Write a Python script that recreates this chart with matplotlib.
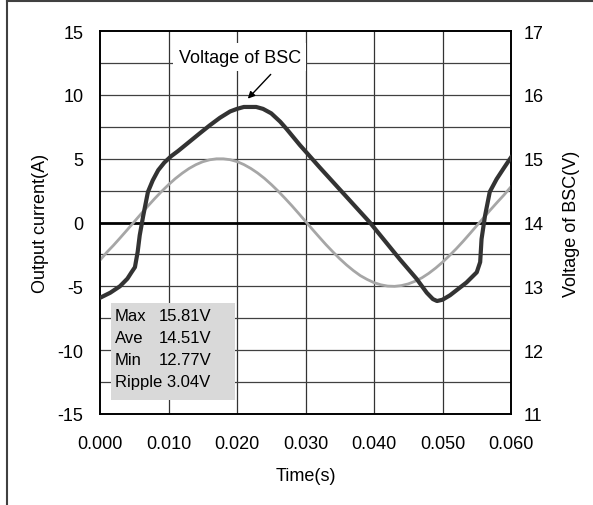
import numpy as np
import matplotlib.pyplot as plt
from matplotlib.lines import Line2D
from matplotlib.patches import Rectangle

plt.rcParams['font.family'] = ['Liberation Sans', 'DejaVu Sans']
plt.rcParams['axes.unicode_minus'] = False

# output current (A), grey curve, read every 1 ms
t_cur = [i * 0.001 for i in range(61)]
cur = [-2.95, -2.33, -1.77, -1.17, -0.56, 0.06, 0.68, 1.29, 1.88, 2.44,
       2.96, 3.44, 3.86, 4.23, 4.53, 4.76, 4.91, 4.99, 4.99, 4.92,
       4.77, 4.54, 4.24, 3.88, 3.46, 2.98, 2.46, 1.90, 1.32, 0.71,
       0.09, -0.53, -1.14, -1.74, -2.30, -2.84, -3.33, -3.77, -4.16, -4.46,
       -4.71, -4.88, -4.98, -5.00, -4.94, -4.81, -4.60, -4.33, -3.98, -3.57,
       -3.11, -2.60, -2.06, -1.48, -0.87, -0.25, 0.37, 0.99, 1.59, 2.17,
       2.80]

# voltage of BSC (V), dark curve
t_vol = [0.0000, 0.0015, 0.0029, 0.0040, 0.0046, 0.0051, 0.0055, 0.0058, 0.0063, 0.0070,
         0.0077, 0.0085, 0.0094, 0.0104, 0.0114, 0.0130, 0.0146, 0.0160, 0.0175, 0.0190,
         0.0200, 0.0210, 0.0219, 0.0228, 0.0238, 0.0250, 0.0263, 0.0272, 0.0282, 0.0292,
         0.0302, 0.0321, 0.0394, 0.0438, 0.0462, 0.0477, 0.0486, 0.0492, 0.0500, 0.0511,
         0.0535, 0.0550, 0.0555, 0.0557, 0.0562, 0.0569, 0.0579, 0.0590, 0.0600]
vol = [12.82, 12.90, 13.00, 13.12, 13.22, 13.30, 13.54, 13.80, 14.10, 14.48,
       14.66, 14.82, 14.94, 15.04, 15.12, 15.26, 15.40, 15.52, 15.64, 15.74,
       15.78, 15.81, 15.81, 15.81, 15.78, 15.71, 15.58, 15.47, 15.34, 15.21,
       15.09, 14.86, 14.00, 13.42, 13.12, 12.90, 12.80, 12.77, 12.79, 12.86,
       13.06, 13.22, 13.38, 13.74, 14.10, 14.48, 14.68, 14.86, 15.02]

stat_names = ['Max', 'Ave', 'Min']
stat_vals = ['15.81V', '14.51V', '12.77V']
ripple = 'Ripple 3.04V'

fig = plt.figure(figsize=(5.93, 5.06), dpi=100)
ax = fig.add_axes([100/593, 91/506, 411/593, 383/506])
ax2 = ax.twinx()

ax.set_xlim(0, 0.06)
ax.set_ylim(-15, 15)
ax2.set_ylim(11, 17)

# grid
for x in [0.01, 0.02, 0.03, 0.04, 0.05]:
    ax.axvline(x, color='#333333', lw=0.9, zorder=1)
for y in np.arange(-12.5, 15, 2.5):
    if abs(y) > 1e-9:
        ax.axhline(y, color='#404040', lw=0.9, zorder=1)
ax.axhline(0, color='black', lw=2, zorder=2)

ax.plot(t_cur, cur, color='#a6a6a6', lw=2, zorder=3)
ax2.plot(t_vol, vol, color='#333333', lw=3, solid_joinstyle='round', zorder=3)

ax.set_xticks(np.arange(0, 0.0601, 0.01))
ax.set_xticklabels(['%.3f' % v for v in np.arange(0, 0.0601, 0.01)])
ax.set_yticks([-15, -10, -5, 0, 5, 10, 15])
ax2.set_yticks([11, 12, 13, 14, 15, 16, 17])
ax.tick_params(axis='x', length=0, labelsize=13, pad=15)
ax.tick_params(axis='y', length=0, labelsize=13, pad=12)
ax2.tick_params(length=0, labelsize=13, pad=9)

ax.set_xlabel('Time(s)', fontsize=13, labelpad=11)
ax.set_ylabel('Output current(A)', fontsize=13, labelpad=6)
ax2.set_ylabel('Voltage of BSC(V)', fontsize=13, labelpad=14)

for a in (ax, ax2):
    for s in a.spines.values():
        s.set_linewidth(1.2)
        s.set_color('black')

# stats box
ax.add_patch(Rectangle((0.0268, 0.0366), 0.3017, 0.2532, transform=ax.transAxes,
                       facecolor='#d9d9d9', edgecolor='none', zorder=4))
rows_y = [0.2567, 0.2002, 0.1436]
for name, val, yy in zip(stat_names, stat_vals, rows_y):
    ax.text(0.0365, yy, name, transform=ax.transAxes, fontsize=12, va='center', zorder=5)
    ax.text(0.1436, yy, val, transform=ax.transAxes, fontsize=12, va='center', zorder=5)
ax.text(0.0365, 0.0843, ripple, transform=ax.transAxes, fontsize=12, va='center', zorder=5)

# annotation
ax.text(0.0204, 12.96, 'Voltage of BSC', fontsize=13, ha='center', va='center', zorder=5,
        bbox=dict(facecolor='white', edgecolor='none', pad=4))
ax.annotate('', xy=(0.0213, 9.54), xytext=(0.0252, 11.76),
            arrowprops=dict(arrowstyle='-|>', color='black', lw=1, mutation_scale=10), zorder=5)

# figure frame (top and left edge)
fig.add_artist(Line2D([7/593, 1], [1 - 2/506, 1 - 2/506], color='#404040', lw=1.5))
fig.add_artist(Line2D([7/593, 7/593], [0, 1 - 2/506], color='#404040', lw=1.5))

fig.savefig('out.png', dpi=100)
